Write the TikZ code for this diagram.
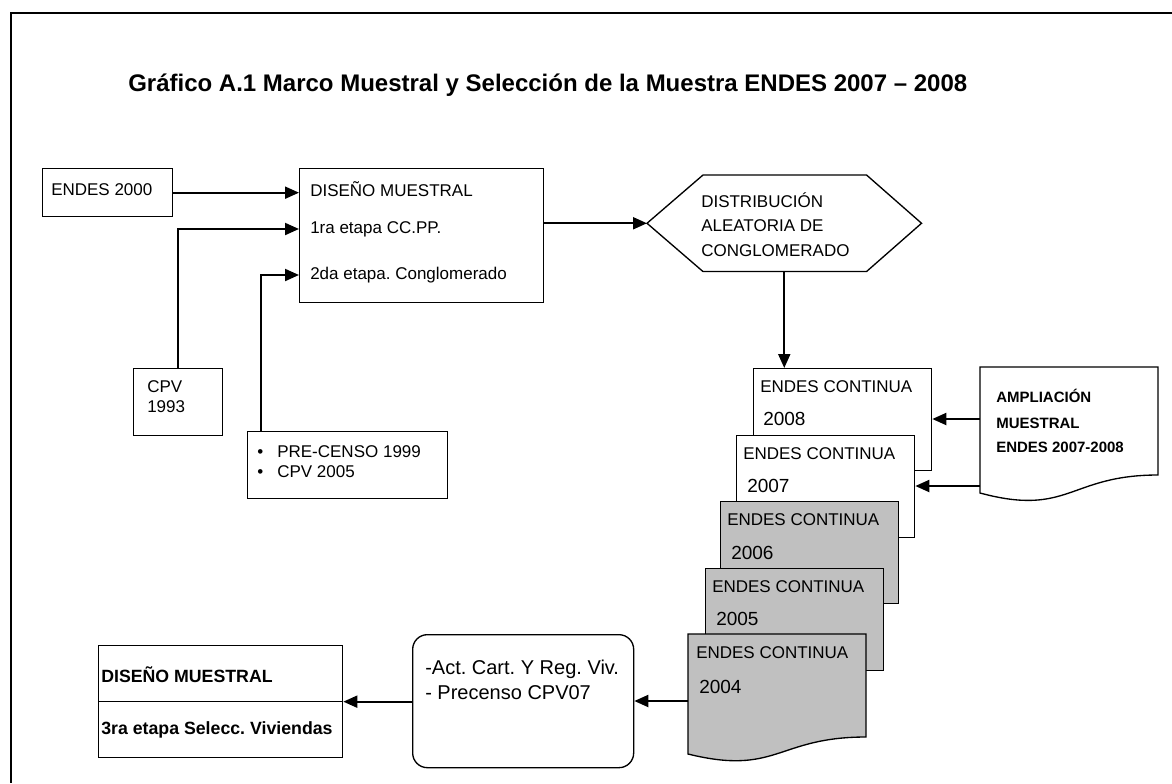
\documentclass[tikz,border=0pt]{standalone}
\usepackage{fontspec}
\setmainfont{Liberation Sans}
\usetikzlibrary{arrows.meta}
\definecolor{docgray}{RGB}{192,192,192}
\frenchspacing

\begin{document}
\begin{tikzpicture}[
    x=0.75pt, y=-0.75pt,
    mybox/.style={draw, line width=1pt, anchor=north west, inner sep=0pt},
    mydoc/.style={draw, line width=1pt, anchor=north west, minimum width=133.5pt, minimum height=76.5pt, inner sep=0pt},
    mytext/.style={anchor=west, inner sep=0pt, align=left, font=\fontsize{12.75}{15}\selectfont},
    myyear/.style={anchor=west, inner sep=0pt, font=\fontsize{14.25}{17}\selectfont},
    mybold/.style={anchor=west, inner sep=0pt, font=\fontsize{11.25}{14}\selectfont\bfseries},
    myarrow/.style={-{Triangle[length=10.5pt, width=9pt]}, line width=1.5pt}
]
    \useasboundingbox (0,0) rectangle (1172,783);

    % Frame
    \draw[line width=1.5pt] (1172,13) -- (11,13) -- (11,783);

    % Title
    \node[anchor=base west, inner sep=0pt, font=\fontsize{18}{22}\selectfont\bfseries] (title) at (128,91)
        {Gráfico A.1 Marco Muestral y Selección de la Muestra ENDES 2007 – 2008};

    % ENDES 2000
    \node[mybox, minimum width=97.5pt, minimum height=36pt] (endes00) at (42,168) {};
    \node[mytext] (endes00t) at (51,190) {ENDES 2000};

    % Diseno muestral
    \node[mybox, minimum width=183pt, minimum height=100.5pt] (dmbox) at (299,168) {};
    \node[mytext] (dm1) at (310,189) {DISEÑO MUESTRAL};
    \node[mytext] (dm2) at (310,229) {1ra etapa CC.PP.};
    \node[mytext] (dm3) at (310,275) {2da etapa. Conglomerado};

    % CPV 1993
    \node[mybox, minimum width=66.75pt, minimum height=50.25pt] (cpv) at (133,368) {};
    \node[mytext] (cpvt) at (147,397) {CPV\\1993};

    % Pre-censo
    \node[mybox, minimum width=150pt, minimum height=50.25pt] (pre) at (247,431) {};
    \node[mytext] (pre1) at (257,452) {\makebox[15pt][l]{\textbullet}PRE-CENSO 1999};
    \node[mytext] (pre2) at (257,472) {\makebox[15pt][l]{\textbullet}CPV 2005};

    \draw[myarrow] (endes00.east) -- (endes00.east -| dmbox.west);
    \draw[myarrow] (cpv.north) |- (dmbox.west |- dm2.west);
    \draw[myarrow] ([xshift=10.5pt]pre.north west) |- (dmbox.west |- dm3.west);

    % Hexagon
    \node[minimum width=205.5pt, minimum height=72pt, anchor=north west, inner sep=0pt] (hexa) at (647,175) {};
    \draw[line width=1pt] (hexa.west) -- ([xshift=42pt]hexa.north west) -- ([xshift=-41.25pt]hexa.north east)
        -- (hexa.east) -- ([xshift=-41.25pt]hexa.south east) -- ([xshift=42pt]hexa.south west) -- cycle;
    \node[mytext, font=\fontsize{12.75}{18.4}\selectfont] (hexat) at (701,224.5)
        {DISTRIBUCIÓN\\ALEATORIA DE\\CONGLOMERADO};

    \draw[myarrow] (dmbox.east |- hexa.west) -- (hexa.west);

    % ENDES continua stack
    \node[mydoc, fill=white] (doc08) at (753,368) {};
    \node[mytext] (doc08a) at (760,387) {ENDES CONTINUA};
    \node[myyear] (doc08b) at (763,419) {2008};

    \node[mydoc, fill=white] (doc07) at (736,435) {};
    \node[mytext] (doc07a) at (743,454) {ENDES CONTINUA};
    \node[myyear] (doc07b) at (747,486) {2007};

    \node[mydoc, fill=docgray] (doc06) at (720,501) {};
    \node[mytext] (doc06a) at (727,520) {ENDES CONTINUA};
    \node[myyear] (doc06b) at (731,553) {2006};

    \node[mydoc, fill=docgray] (doc05) at (705,568) {};
    \node[mytext] (doc05a) at (712,587) {ENDES CONTINUA};
    \node[myyear] (doc05b) at (716,619) {2005};

    \node[mydoc, draw=none] (doc04) at (688,634) {};
    \draw[line width=1pt, fill=docgray] (688,634) -- (866,634) -- (866,737)
        .. controls (777,737) and (777,776) .. (688,754) -- cycle;
    \node[mytext] (doc04a) at (696,653) {ENDES CONTINUA};
    \node[myyear] (doc04b) at (699,687) {2004};
    \coordinate (doc04w) at (688,701);

    \draw[myarrow] (hexa.south) -- (hexa.south |- doc08.north);

    % Ampliacion muestral
    \node[minimum width=133.5pt, minimum height=81pt, anchor=north west, inner sep=0pt] (ampl) at (980,367) {};
    \draw[line width=1pt] (980,367) -- (1158,367) -- (1158,475)
        .. controls (1069,475) and (1069,517) .. (980,493) -- cycle;
    \node[mybold] (ampl1) at (996,396) {AMPLIACIÓN};
    \node[mybold] (ampl2) at (996,423) {MUESTRAL};
    \node[mybold] (ampl3) at (996,447) {ENDES 2007-2008};

    \draw[myarrow] (ampl.west |- doc08b) -- (doc08.east |- doc08b);
    \draw[myarrow] (ampl.west |- doc07b) -- (doc07.east |- doc07b);

    % Actualizacion
    \node[mybox, rounded corners=11pt, minimum width=165.75pt, minimum height=99.75pt] (prep) at (412,634) {};
    \node[mytext, font=\fontsize{15}{18}\selectfont] (prep1) at (425,669) {-Act. Cart. Y Reg. Viv.};
    \node[mytext, font=\fontsize{15}{18}\selectfont] (prep2) at (425,693) {- Precenso CPV07};

    \draw[myarrow] (doc04w) -- (prep.east |- doc04w);

    % Tercera etapa
    \node[mybox, minimum width=183pt, minimum height=84pt] (dm3ra) at (98,645) {};
    \draw[line width=1pt] (dm3ra.west) -- (dm3ra.east);
    \node[mybold, font=\fontsize{13.3}{16}\selectfont\bfseries] (dm3ra1) at (101,675) {DISEÑO MUESTRAL};
    \node[mybold, font=\fontsize{13.3}{16}\selectfont\bfseries] (dm3ra2) at (101,730) {3ra etapa Selecc. Viviendas};

    \draw[myarrow] (prep.west |- dm3ra.east) -- (dm3ra.east);
\end{tikzpicture}
\end{document}
